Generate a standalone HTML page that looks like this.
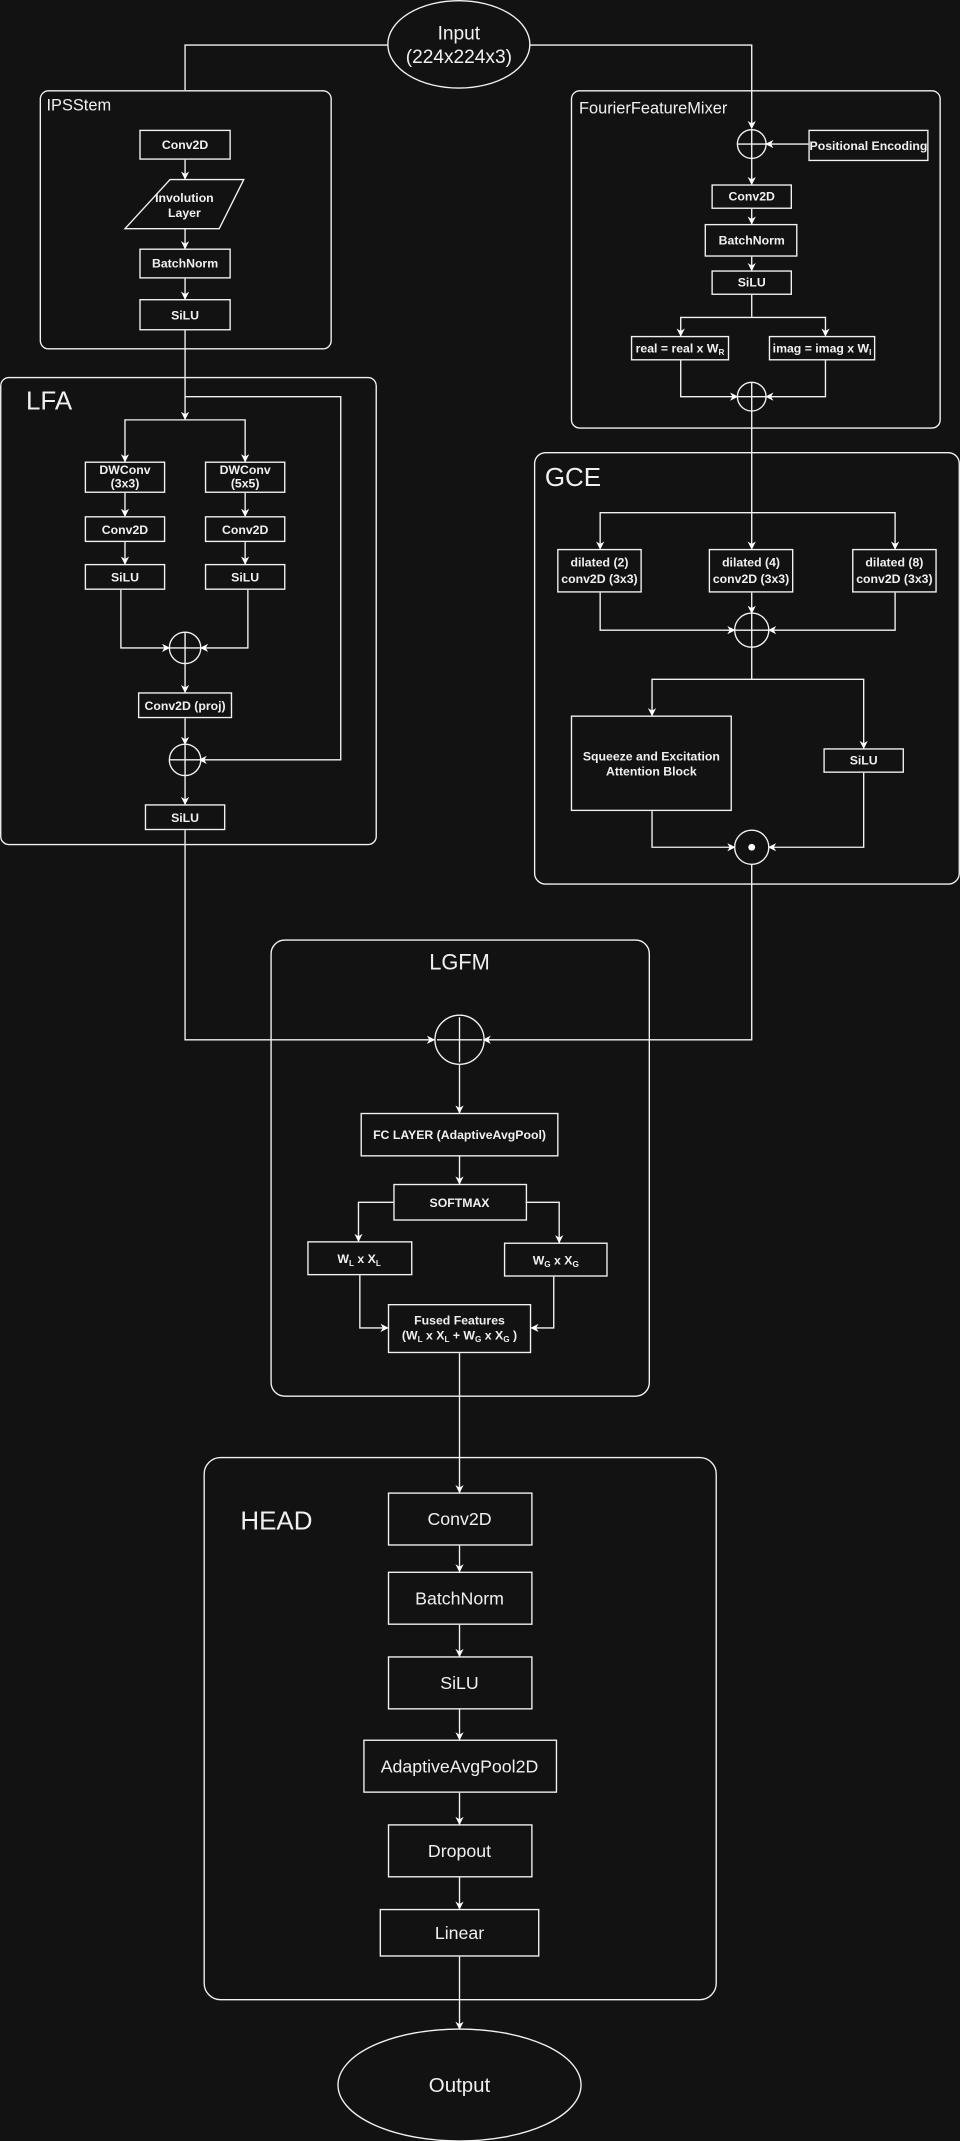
<!DOCTYPE html>
<html><head><meta charset="utf-8"><style>
html,body{margin:0;padding:0;background:#121212;}
svg{display:block}
text{font-family:"Liberation Sans",Arial,sans-serif;fill:#f0f0f0}
</style></head><body>
<svg width="960" height="2141" viewBox="0 0 703 1568" xmlns="http://www.w3.org/2000/svg">
<defs>
<marker id="a" viewBox="0 0 10 10" refX="9" refY="5" markerWidth="6" markerHeight="6" orient="auto-start-reverse" markerUnits="userSpaceOnUse"><path d="M0,0 L10,5 L0,10 L3,5 z" fill="#fff"/></marker>
</defs>
<rect width="703" height="1568" fill="#121212"/>
<g fill="none" stroke="#f2f2f2" stroke-width="1">
<!-- containers -->
<rect x="29.5" y="66.5" width="213" height="189" rx="6"/>
<rect x="0.5" y="276.5" width="275" height="342" rx="6"/>
<rect x="418.5" y="66.5" width="270" height="247" rx="6"/>
<rect x="391.5" y="331.5" width="311" height="316" rx="8"/>
<rect x="198.5" y="688.5" width="277" height="334" rx="10"/>
<rect x="149.5" y="1067.5" width="375" height="397" rx="12"/>
<!-- input -->
<ellipse cx="336" cy="32.5" rx="52" ry="32"/>
<polyline points="284,33 135.5,33 135.5,66"/>
<polyline points="388,33 550.5,33 550.5,94" marker-end="url(#a)"/>
<!-- IPSStem -->
<rect x="102.5" y="95.5" width="66" height="21"/>
<polygon points="124.5,131.5 178.5,131.5 160.5,167.5 91.5,167.5"/>
<rect x="102.5" y="182.5" width="66" height="21"/>
<rect x="102.5" y="219.5" width="66" height="22"/>
<line x1="135.5" y1="117" x2="135.5" y2="131" marker-end="url(#a)"/>
<line x1="135.5" y1="167" x2="135.5" y2="182" marker-end="url(#a)"/>
<line x1="135.5" y1="204" x2="135.5" y2="219" marker-end="url(#a)"/>
<!-- LFA -->
<line x1="135.5" y1="242" x2="135.5" y2="307" marker-end="url(#a)"/>
<polyline points="91.5,338 91.5,307.5 179.5,307.5 179.5,338" marker-end="url(#a)" marker-start="url(#a)"/>
<polyline points="135.5,290.5 249.5,290.5 249.5,556.5 146,556.5" marker-end="url(#a)"/>
<rect x="62.5" y="338.5" width="58" height="22"/>
<rect x="150.5" y="338.5" width="58" height="22"/>
<rect x="62.5" y="378.5" width="58" height="18"/>
<rect x="150.5" y="378.5" width="58" height="18"/>
<rect x="62.5" y="413.5" width="58" height="18"/>
<rect x="150.5" y="413.5" width="58" height="18"/>
<line x1="91.5" y1="361" x2="91.5" y2="378" marker-end="url(#a)"/>
<line x1="179.5" y1="361" x2="179.5" y2="378" marker-end="url(#a)"/>
<line x1="91.5" y1="397" x2="91.5" y2="413" marker-end="url(#a)"/>
<line x1="179.5" y1="397" x2="179.5" y2="413" marker-end="url(#a)"/>
<polyline points="88.5,432 88.5,474.5 124,474.5" marker-end="url(#a)"/>
<polyline points="181.5,432 181.5,474.5 147,474.5" marker-end="url(#a)"/>
<circle cx="135.5" cy="474.5" r="11.5"/>
<path d="M124,474.5h23M135.5,463v23"/>
<line x1="135.5" y1="486" x2="135.5" y2="507" marker-end="url(#a)"/>
<rect x="101.5" y="507.5" width="68" height="18"/>
<line x1="135.5" y1="526" x2="135.5" y2="545" marker-end="url(#a)"/>
<circle cx="135.5" cy="556.5" r="11.5"/>
<path d="M124,556.5h23M135.5,545v23"/>
<line x1="135.5" y1="568" x2="135.5" y2="589" marker-end="url(#a)"/>
<rect x="106.5" y="589.5" width="58" height="18"/>
<polyline points="135.5,608 135.5,761.5 318,761.5" marker-end="url(#a)"/>
<!-- FFM -->
<circle cx="550.5" cy="105.5" r="10.5"/>
<path d="M540,105.5h21M550.5,95v21"/>
<rect x="592.5" y="95.5" width="87" height="22"/>
<line x1="592" y1="105.5" x2="561" y2="105.5" marker-end="url(#a)"/>
<line x1="550.5" y1="116" x2="550.5" y2="135" marker-end="url(#a)"/>
<rect x="521.5" y="135.5" width="58" height="17"/>
<line x1="550.5" y1="153" x2="550.5" y2="164" marker-end="url(#a)"/>
<rect x="516.5" y="164.5" width="67" height="23"/>
<line x1="550.5" y1="188" x2="550.5" y2="198" marker-end="url(#a)"/>
<rect x="521.5" y="198.5" width="58" height="17"/>
<line x1="550.5" y1="216" x2="550.5" y2="232"/>
<polyline points="498.5,246 498.5,232.5 604.5,232.5 604.5,246" marker-end="url(#a)" marker-start="url(#a)"/>
<rect x="462.5" y="246.5" width="71" height="17"/>
<rect x="563.5" y="246.5" width="77" height="17"/>
<polyline points="498.5,264 498.5,290.5 540,290.5" marker-end="url(#a)"/>
<polyline points="604.5,264 604.5,290.5 561,290.5" marker-end="url(#a)"/>
<circle cx="550.5" cy="290.5" r="10.5"/>
<path d="M540,290.5h21M550.5,280v21"/>
<!-- GCE -->
<line x1="550.5" y1="301" x2="550.5" y2="402" marker-end="url(#a)"/>
<polyline points="439.5,402 439.5,375.5 655.5,375.5 655.5,402" marker-end="url(#a)" marker-start="url(#a)"/>
<rect x="408.5" y="402.5" width="61" height="31"/>
<rect x="519.5" y="402.5" width="61" height="31"/>
<rect x="624.5" y="402.5" width="61" height="31"/>
<polyline points="439.5,434 439.5,461.5 538,461.5" marker-end="url(#a)"/>
<polyline points="655.5,434 655.5,461.5 563,461.5" marker-end="url(#a)"/>
<line x1="550.5" y1="434" x2="550.5" y2="449" marker-end="url(#a)"/>
<circle cx="550.5" cy="461.5" r="12.5"/>
<path d="M538,461.5h25M550.5,449v25"/>
<line x1="550.5" y1="474" x2="550.5" y2="497.5"/>
<polyline points="477.5,524 477.5,497.5 632.5,497.5 632.5,548" marker-end="url(#a)" marker-start="url(#a)"/>
<rect x="418.5" y="524.5" width="117" height="69"/>
<rect x="603.5" y="548.5" width="58" height="17"/>
<polyline points="477.5,594 477.5,620.5 538,620.5" marker-end="url(#a)"/>
<polyline points="632.5,566 632.5,620.5 563,620.5" marker-end="url(#a)"/>
<circle cx="550.5" cy="620.5" r="12.5"/>
<polyline points="550.5,633 550.5,761.5 354,761.5" marker-end="url(#a)"/>
<!-- LGFM -->
<circle cx="336.5" cy="761.5" r="18"/>
<path d="M320,761.5h33M336.5,745v33"/>
<line x1="336.5" y1="780" x2="336.5" y2="815" marker-end="url(#a)"/>
<rect x="264.5" y="815.5" width="144" height="31"/>
<line x1="336.5" y1="847" x2="336.5" y2="867" marker-end="url(#a)"/>
<rect x="288.5" y="867.5" width="97" height="26"/>
<polyline points="288,880.5 262.5,880.5 262.5,909" marker-end="url(#a)"/>
<polyline points="385,880.5 409.5,880.5 409.5,910" marker-end="url(#a)"/>
<rect x="225.5" y="909.5" width="76" height="24"/>
<rect x="369.5" y="910.5" width="75" height="24"/>
<polyline points="263.5,934 263.5,972.5 284,972.5" marker-end="url(#a)"/>
<polyline points="405.5,935 405.5,972.5 389,972.5" marker-end="url(#a)"/>
<rect x="284.5" y="955.5" width="104" height="35"/>
<line x1="336.5" y1="991" x2="336.5" y2="1093" marker-end="url(#a)"/>
<!-- HEAD -->
<rect x="284.5" y="1093.5" width="105" height="38"/>
<rect x="284.5" y="1151.5" width="105" height="38"/>
<rect x="284.5" y="1213.5" width="105" height="38"/>
<rect x="266.5" y="1274.5" width="141" height="38"/>
<rect x="284.5" y="1336.5" width="105" height="38"/>
<rect x="278.5" y="1398.5" width="116" height="34"/>
<line x1="336.5" y1="1132" x2="336.5" y2="1151" marker-end="url(#a)"/>
<line x1="336.5" y1="1190" x2="336.5" y2="1213" marker-end="url(#a)"/>
<line x1="336.5" y1="1252" x2="336.5" y2="1274" marker-end="url(#a)"/>
<line x1="336.5" y1="1313" x2="336.5" y2="1336" marker-end="url(#a)"/>
<line x1="336.5" y1="1375" x2="336.5" y2="1398" marker-end="url(#a)"/>
<line x1="336.5" y1="1433" x2="336.5" y2="1486" marker-end="url(#a)"/>
<ellipse cx="336.5" cy="1527" rx="89" ry="41"/>
</g>
<circle cx="550.5" cy="620.5" r="2.5" fill="#fff"/>
<!-- text -->
<g font-size="14" text-anchor="middle">
<text x="336" y="29">Input</text>
<text x="336" y="46">(224x224x3)</text>
</g>
<g font-size="12">
<text x="34" y="81">IPSStem</text>
<text x="424" y="83">FourierFeatureMixer</text>
</g>
<g font-size="19">
<text x="19" y="300">LFA</text>
<text x="399" y="356">GCE</text>
<text x="176" y="1120">HEAD</text>
</g>
<text x="336.5" y="710" font-size="16" text-anchor="middle">LGFM</text>
<g font-size="9" text-anchor="middle" font-weight="bold">
<text x="135.5" y="109">Conv2D</text>
<text x="135" y="148">Involution</text>
<text x="135" y="159">Layer</text>
<text x="135.5" y="196">BatchNorm</text>
<text x="135.5" y="234">SiLU</text>
<text x="91.5" y="347">DWConv</text><text x="91.5" y="357">(3x3)</text>
<text x="179.5" y="347">DWConv</text><text x="179.5" y="357">(5x5)</text>
<text x="91.5" y="391">Conv2D</text><text x="179.5" y="391">Conv2D</text>
<text x="91.5" y="426">SiLU</text><text x="179.5" y="426">SiLU</text>
<text x="135.5" y="520">Conv2D (proj)</text>
<text x="135.5" y="602">SiLU</text>
<text x="636" y="110">Positional Encoding</text>
<text x="550.5" y="147">Conv2D</text>
<text x="550.5" y="179">BatchNorm</text>
<text x="550.5" y="210">SiLU</text>
<text x="498" y="258">real = real x W<tspan font-size="6" dy="2">R</tspan></text>
<text x="602" y="258">imag = imag x W<tspan font-size="6" dy="2">I</tspan></text>
<text x="439" y="415">dilated (2)</text><text x="439" y="427">conv2D (3x3)</text>
<text x="550" y="415">dilated (4)</text><text x="550" y="427">conv2D (3x3)</text>
<text x="655" y="415">dilated (8)</text><text x="655" y="427">conv2D (3x3)</text>
<text x="477" y="557">Squeeze and Excitation</text>
<text x="477" y="568">Attention Block</text>
<text x="632.5" y="560">SiLU</text>
<text x="336.5" y="834">FC LAYER (AdaptiveAvgPool)</text>
<text x="336.5" y="884">SOFTMAX</text>
<text x="263" y="925">W<tspan font-size="6" dy="2">L</tspan><tspan dy="-2">  x  X</tspan><tspan font-size="6" dy="2">L</tspan></text>
<text x="407" y="926">W<tspan font-size="6" dy="2">G</tspan><tspan dy="-2"> x  X</tspan><tspan font-size="6" dy="2">G</tspan></text>
<text x="336.5" y="970">Fused Features</text>
<text x="336.5" y="981">(W<tspan font-size="6" dy="2">L</tspan><tspan dy="-2">  x  X</tspan><tspan font-size="6" dy="2">L</tspan><tspan dy="-2">  + W</tspan><tspan font-size="6" dy="2">G</tspan><tspan dy="-2"> x  X</tspan><tspan font-size="6" dy="2">G</tspan><tspan dy="-2"> )</tspan></text>
</g>
<g font-size="13" text-anchor="middle">
<text x="336.5" y="1117">Conv2D</text>
<text x="336.5" y="1175">BatchNorm</text>
<text x="336.5" y="1237">SiLU</text>
<text x="336.5" y="1298">AdaptiveAvgPool2D</text>
<text x="336.5" y="1360">Dropout</text>
<text x="336.5" y="1420">Linear</text>
<text x="336.5" y="1532" font-size="15">Output</text>
</g>
</svg>
</body></html>
